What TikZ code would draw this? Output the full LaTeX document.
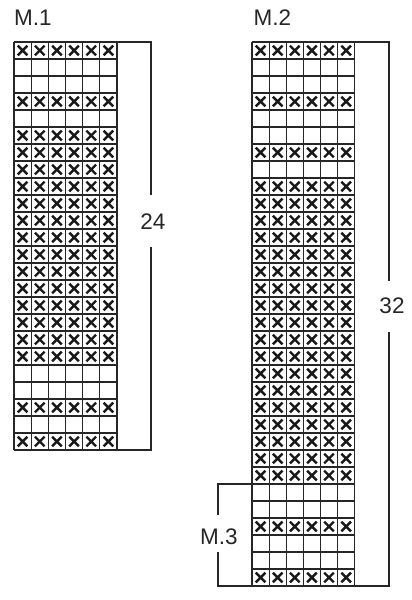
\documentclass[tikz,border=0pt]{standalone}
\usepackage{fontspec}
\setmainfont{Liberation Sans}
\begin{document}
\begin{tikzpicture}[x=1pt,y=-1pt,
  gridline/.style={line width=1.2pt, black!85},
  xmark/.style={line width=2.4pt, black!90},
  bracket/.style={line width=1.6pt, black!85},
  lbl/.style={font=\fontsize{22.5}{26}\selectfont, inner sep=0pt, text=black!85}]
\useasboundingbox (0,0) rectangle (412,600);
% ---------- M.1 chart ----------
\def\xa{14}\def\wa{17.17}\def\ya{42}\def\ha{17}
\foreach \r in {1,4,6,7,8,9,10,11,12,13,14,15,16,17,18,19,22,24}
  \foreach \c in {1,...,6}
    \draw[xmark] ({\xa+(\c-0.5)*\wa-4.8},{\ya+(\r-0.5)*\ha-4.8}) -- ++(9.6,9.6)
                 ({\xa+(\c-0.5)*\wa-4.8},{\ya+(\r-0.5)*\ha+4.8}) -- ++(9.6,-9.6);
\foreach \r in {0,...,24}
  \draw[gridline] (\xa,{\ya+\r*\ha}) -- ({\xa+6*\wa},{\ya+\r*\ha});
\foreach \c in {0,...,6}
  \draw[gridline] ({\xa+\c*\wa},\ya) -- ({\xa+\c*\wa},{\ya+24*\ha});
% ---------- M.2 chart ----------
\def\xb{252}\def\wb{17.12}\def\yb{42}\def\hb{17}
\foreach \r in {1,4,7,9,10,11,12,13,14,15,16,17,18,19,20,21,22,23,24,25,26,29,32}
  \foreach \c in {1,...,6}
    \draw[xmark] ({\xb+(\c-0.5)*\wb-4.8},{\yb+(\r-0.5)*\hb-4.8}) -- ++(9.6,9.6)
                 ({\xb+(\c-0.5)*\wb-4.8},{\yb+(\r-0.5)*\hb+4.8}) -- ++(9.6,-9.6);
\foreach \r in {0,...,32}
  \draw[gridline] (\xb,{\yb+\r*\hb}) -- ({\xb+6*\wb},{\yb+\r*\hb});
\foreach \c in {0,...,6}
  \draw[gridline] ({\xb+\c*\wb},\yb) -- ({\xb+\c*\wb},{\yb+32*\hb});
% ---------- labels ----------
\node[lbl] (t1) at (33,18) {M.1};
\node[lbl] (t2) at (272.5,18) {M.2};
\node[lbl] (n24) at (153,221.5) {24};
\node[lbl] (n32) at (392,306) {32};
\node[lbl] (m3) at (219,536.5) {M.3};
% ---------- brackets ----------
\coordinate (a1) at (117,42);  \coordinate (a2) at (117,450);
\draw[bracket] (a1) -- (151,42) -- (151,195);
\draw[bracket] (151,247) -- (151,450) -- (a2);
\coordinate (b1) at (354.7,42); \coordinate (b2) at (354.7,586);
\draw[bracket] (b1) -- (389,42) -- (389,281);
\draw[bracket] (389,332) -- (389,586) -- (b2);
\coordinate (c1) at (252,484); \coordinate (c2) at (252,586);
\draw[bracket] (c1) -- (218,484) -- (218,515);
\draw[bracket] (218,552) -- (218,586) -- (c2);
\end{tikzpicture}
\end{document}
